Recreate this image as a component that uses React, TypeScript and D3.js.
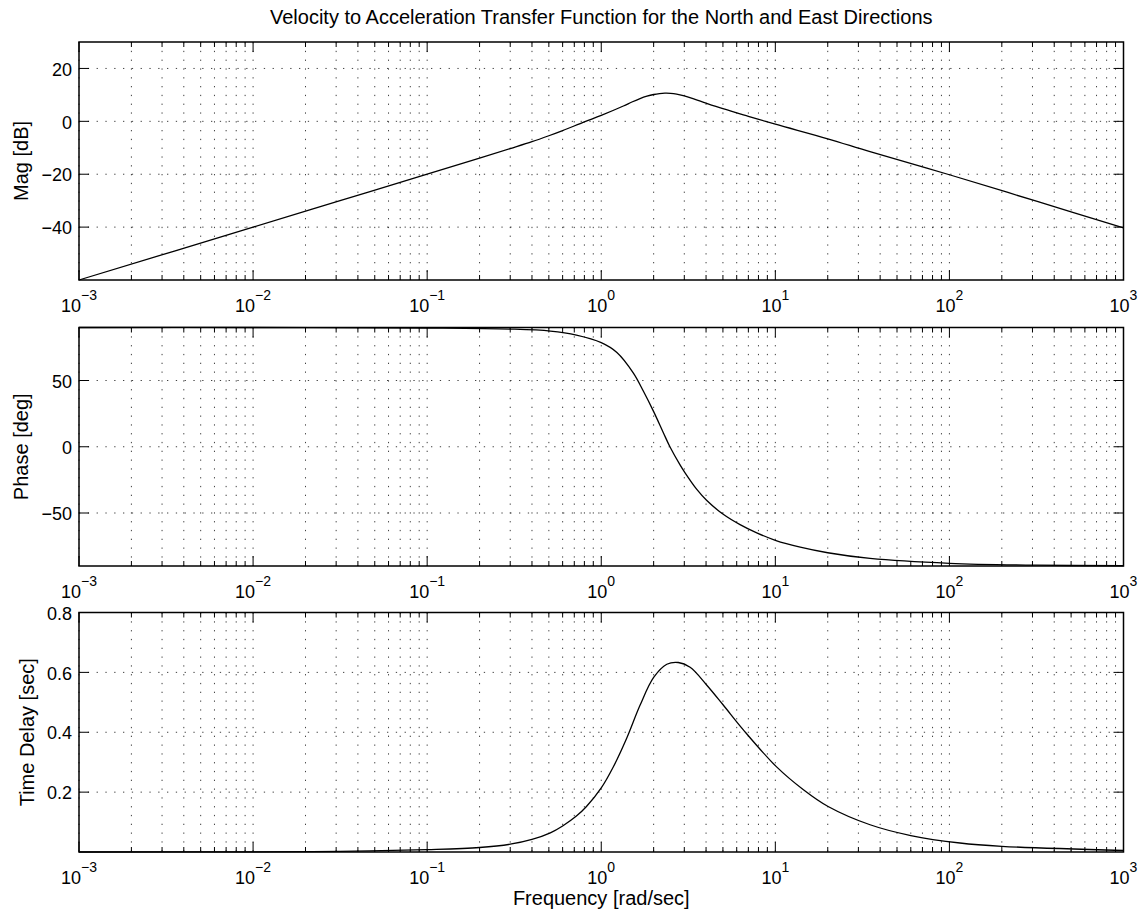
import React from 'react';
import * as d3 from 'd3';

// values
const magFreq = [0.001, 0.01, 0.0316, 0.1, 0.2, 0.3, 0.4, 0.5, 0.6, 0.8, 1, 1.34, 1.5, 1.67, 1.83, 2, 2.16, 2.32, 2.5, 2.71, 3, 3.4, 4, 5, 7, 10, 20, 35, 100, 316, 1000];
const magDb = [-60, -40, -30, -20, -13.9, -10.3, -7.7, -5.45, -3.5, -0.2, 2.25, 5.8, 7.3, 8.6, 9.5, 10.15, 10.5, 10.65, 10.6, 10.3, 9.6, 8.5, 6.9, 4.8, 1.9, -1.1, -6.6, -11.5, -20.2, -30.2, -40.3];

const phaseFreq = [0.001, 0.01, 0.1, 0.3, 0.51, 0.72, 1, 1.23, 1.53, 1.75, 2, 2.27, 2.48, 2.83, 3.03, 3.53, 4.04, 5.02, 6.27, 7.82, 10, 13.9, 20, 35, 100, 316, 1000];
const phaseDeg = [90, 90, 89.6, 88.8, 87.3, 84.3, 78.6, 71.2, 55.6, 41.7, 26.5, 10.8, 0, -13.5, -19.7, -32.0, -40.6, -51.0, -58.8, -65.0, -70.6, -75.8, -80.0, -84.3, -88.0, -89.4, -89.8];

const delayFreq = [0.001, 0.01, 0.0316, 0.1, 0.2, 0.3, 0.4, 0.51, 0.6, 0.72, 0.82, 1, 1.17, 1.4, 1.67, 2, 2.38, 2.77, 3.24, 4.03, 5.02, 6.55, 10.1, 14.5, 20.1, 35, 60, 115, 200, 1000];
const delaySec = [0, 0.0005, 0.002, 0.008, 0.015, 0.026, 0.042, 0.064, 0.087, 0.12, 0.151, 0.214, 0.283, 0.38, 0.49, 0.583, 0.627, 0.633, 0.617, 0.558, 0.491, 0.408, 0.286, 0.208, 0.152, 0.091, 0.055, 0.03, 0.019, 0.005];

const decades = [-3, -2, -1, 0, 1, 2, 3];
const magTicks = [-40, -20, 0, 20];
const phaseTicks = [-50, 0, 50];
const delayTicks = [0.2, 0.4, 0.6, 0.8];

const title = 'Velocity to Acceleration Transfer Function for the North and East Directions';
const xLabel = 'Frequency [rad/sec]';

const FONT = 'Liberation Sans, Arial, Helvetica, sans-serif';
const W = 1144;
const H = 917;
const LEFT = 79;
const RIGHT = 1123.5;

const x = d3.scaleLog().domain([1e-3, 1e3]).range([LEFT, RIGHT]);

const majorVals = decades.map((e) => Math.pow(10, e));
const minorVals: number[] = [];
decades.slice(0, -1).forEach((e) => {
  for (let k = 2; k <= 9; k++) minorVals.push(k * Math.pow(10, e));
});

const fmt = (v: number) => String(v).replace('-', '\u2212');

type PanelProps = {
  top: number;
  bottom: number;
  domain: [number, number];
  ticks: number[];
  label: string;
  labelX: number;
  freq: number[];
  vals: number[];
};

const Panel: React.FC<PanelProps> = ({ top, bottom, domain, ticks, label, labelX, freq, vals }) => {
  const y = d3.scaleLinear().domain(domain).range([bottom, top]);
  const line = d3
    .line<number>()
    .x((_, i) => x(freq[i]))
    .y((d) => y(d))
    .curve(d3.curveCatmullRom.alpha(0.5));
  const dots = { stroke: '#000', strokeWidth: 1, strokeDasharray: '1.3 7.5', fill: 'none' };
  const mid = (top + bottom) / 2;
  return (
    <g>
      {/* grid */}
      {majorVals.concat(minorVals).map((v, i) => (
        <line key={'gv' + i} x1={x(v)} x2={x(v)} y1={top} y2={bottom} style={dots} opacity={0.75} />
      ))}
      {ticks.map((t) => (
        <line key={'gh' + t} x1={LEFT} x2={RIGHT} y1={y(t)} y2={y(t)} style={dots} opacity={0.75} />
      ))}
      {/* curve */}
      <path d={line(vals) as string} fill="none" stroke="#000" strokeWidth={1.3} />
      {/* tick marks */}
      {majorVals.map((v, i) => (
        <g key={'mt' + i} stroke="#000" strokeWidth={1}>
          <line x1={x(v)} x2={x(v)} y1={bottom} y2={bottom - 10} />
          <line x1={x(v)} x2={x(v)} y1={top} y2={top + 10} />
        </g>
      ))}
      {minorVals.map((v, i) => (
        <g key={'nt' + i} stroke="#000" strokeWidth={1}>
          <line x1={x(v)} x2={x(v)} y1={bottom} y2={bottom - 5} />
          <line x1={x(v)} x2={x(v)} y1={top} y2={top + 5} />
        </g>
      ))}
      {ticks.map((t) => (
        <g key={'yt' + t}>
          <line x1={LEFT} x2={LEFT + 10} y1={y(t)} y2={y(t)} stroke="#000" />
          <line x1={RIGHT} x2={RIGHT - 10} y1={y(t)} y2={y(t)} stroke="#000" />
          <text x={LEFT - 7} y={y(t)} dy="0.4em" textAnchor="end" fontSize={18}>
            {fmt(t)}
          </text>
        </g>
      ))}
      <rect x={LEFT} y={top} width={RIGHT - LEFT} height={bottom - top} fill="none" stroke="#000" strokeWidth={1.5} />
      {/* x tick labels */}
      {decades.map((d) => (
        <text key={'xl' + d} x={x(Math.pow(10, d))} y={bottom + 32} textAnchor="middle" fontSize={18}>
          10
          <tspan dy={-12} fontSize={14}>
            {fmt(d)}
          </tspan>
        </text>
      ))}
      <text transform={`translate(${labelX},${mid}) rotate(-90)`} textAnchor="middle" fontSize={20}>
        {label}
      </text>
    </g>
  );
};

export default function App() {
  return (
    <div style={{ position: 'absolute', left: 0, top: 0, background: '#fff' }}>
      <svg width={W} height={H} style={{ display: 'block', fontFamily: FONT }}>
        <rect width={W} height={H} fill="#fff" />
        <text x={(LEFT + RIGHT) / 2} y={24} textAnchor="middle" fontSize={20}>
          {title}
        </text>
        <Panel top={42} bottom={280} domain={[-60, 30]} ticks={magTicks} label="Mag [dB]" labelX={28} freq={magFreq} vals={magDb} />
        <Panel top={327.5} bottom={566} domain={[-90, 90]} ticks={phaseTicks} label="Phase [deg]" labelX={28} freq={phaseFreq} vals={phaseDeg} />
        <Panel top={612.5} bottom={852} domain={[0, 0.8]} ticks={delayTicks} label="Time Delay [sec]" labelX={34} freq={delayFreq} vals={delaySec} />
        <text x={(LEFT + RIGHT) / 2} y={905} textAnchor="middle" fontSize={20}>
          {xLabel}
        </text>
      </svg>
    </div>
  );
}
